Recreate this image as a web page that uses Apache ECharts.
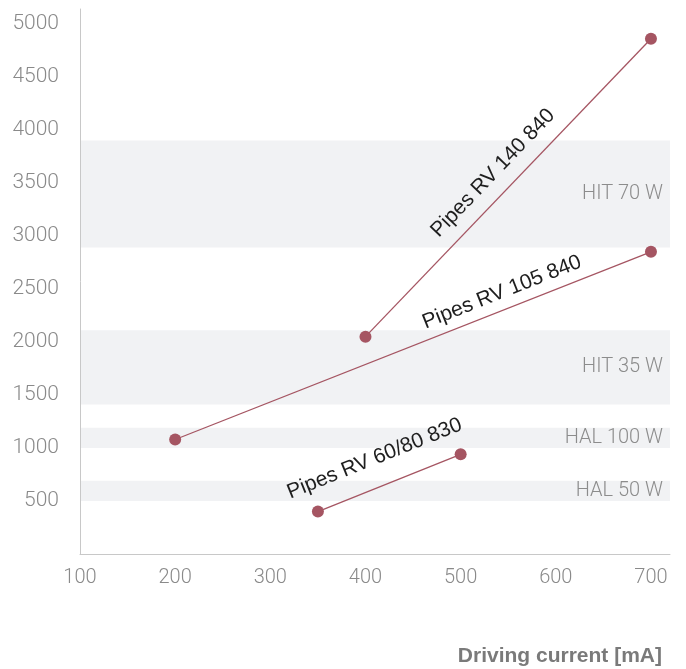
<!DOCTYPE html>
<html>
<head>
<meta charset="utf-8">
<script src="https://cdn.jsdelivr.net/npm/echarts@6/dist/echarts.min.js"></script>
<style>
html,body{margin:0;padding:0;background:#fff;}
#chart{width:686px;height:669px;}
</style>
</head>
<body>
<div id="chart"></div>
<script>
// ---- data ----
const seriesNames = ['Pipes RV 140 840', 'Pipes RV 105 840', 'Pipes RV 60/80 830'];
const rv140 = [[400, 2050], [700, 4860]];
const rv105 = [[200, 1080], [700, 2850]];
const rv6080 = [[350, 400], [500, 940]];
const bandNames = ['HIT 70 W', 'HIT 35 W', 'HAL 100 W', 'HAL 50 W'];
const bandLow = [2890, 1410, 1000, 500];
const bandHigh = [3900, 2110, 1190, 690];
const xTicks = [100, 200, 300, 400, 500, 600, 700];
const yTicks = [500, 1000, 1500, 2000, 2500, 3000, 3500, 4000, 4500, 5000];
const xTitle = 'Driving current [mA]';

// label placement along each line (fraction, perpendicular px offset)
const labelT = [0.5, 0.70, 0.47];
const labelOff = [21, 17, 28];

const lineColor = '#a55562';
const axisFont = 'Roboto';
const chart = echarts.init(document.getElementById('chart'), null, {renderer: 'canvas'});

const allData = [rv140, rv105, rv6080];
const series = allData.map((d, i) => ({
  name: seriesNames[i],
  type: 'line',
  data: d,
  symbol: 'circle',
  symbolSize: 12,
  lineStyle: {color: lineColor, width: 1.3},
  itemStyle: {color: lineColor},
  silent: true,
  animation: false,
  z: 3
}));
series.push({
  type: 'line',
  data: [],
  silent: true,
  animation: false,
  markArea: {
    silent: true,
    itemStyle: {color: '#f1f2f4'},
    label: {
      show: true,
      position: 'insideRight',
      distance: 7,
      color: '#8c8c8c',
      fontSize: 20,
      fontFamily: axisFont,
      fontWeight: 300
    },
    data: bandNames.map((n, i) => [{name: n, yAxis: bandLow[i]}, {yAxis: bandHigh[i]}])
  },
  z: 1
});

chart.setOption({
  animation: false,
  grid: {left: 80, right: 16, top: 9, bottom: 115, containLabel: false},
  xAxis: {
    type: 'value',
    min: 100, max: 720, interval: 100,
    z: 10,
    axisLine: {show: true, lineStyle: {color: '#c8c8c8', width: 1}},
    axisTick: {show: false},
    splitLine: {show: false},
    axisLabel: {
      color: '#8a8a8a', fontSize: 20, fontFamily: axisFont, fontWeight: 300, margin: 14,
      showMaxLabel: false,
      formatter: v => xTicks.indexOf(v) >= 0 ? String(v) : ''
    }
  },
  yAxis: {
    type: 'value',
    min: 0, max: 5140, interval: 500,
    z: 10,
    axisLine: {show: true, lineStyle: {color: '#c8c8c8', width: 1}},
    axisTick: {show: false},
    splitLine: {show: false},
    axisLabel: {
      color: '#8a8a8a', fontSize: 21, fontFamily: axisFont, fontWeight: 300, margin: 21,
      showMinLabel: false, showMaxLabel: false,
      formatter: v => yTicks.indexOf(v) >= 0 ? String(v) : ''
    }
  },
  series: series
});

// rotated labels along each line, computed from the axes
const graphics = allData.map((d, i) => {
  const p1 = chart.convertToPixel({gridIndex: 0}, d[0]);
  const p2 = chart.convertToPixel({gridIndex: 0}, d[1]);
  const dx = p2[0] - p1[0], dy = p2[1] - p1[1];
  const len = Math.sqrt(dx * dx + dy * dy);
  const ux = dx / len, uy = dy / len;
  const nx = uy, ny = -ux;
  const t = labelT[i];
  const cx = p1[0] + dx * t + nx * labelOff[i];
  const cy = p1[1] + dy * t + ny * labelOff[i];
  return {
    type: 'text',
    x: cx, y: cy,
    rotation: Math.atan2(-dy, dx),
    silent: true,
    z: 10,
    style: {
      text: seriesNames[i],
      fill: '#1e1e1e',
      fontSize: 21,
      fontFamily: 'Liberation Sans',
      align: 'center',
      verticalAlign: 'middle'
    }
  };
});
graphics.push({
  type: 'text',
  x: 662, y: 656,
  silent: true,
  style: {
    text: xTitle,
    fill: '#7a7a7a',
    fontSize: 21,
    fontWeight: 'bold',
    fontFamily: 'Liberation Sans',
    align: 'right',
    verticalAlign: 'middle'
  }
});
chart.setOption({graphic: graphics});
</script>
</body>
</html>
